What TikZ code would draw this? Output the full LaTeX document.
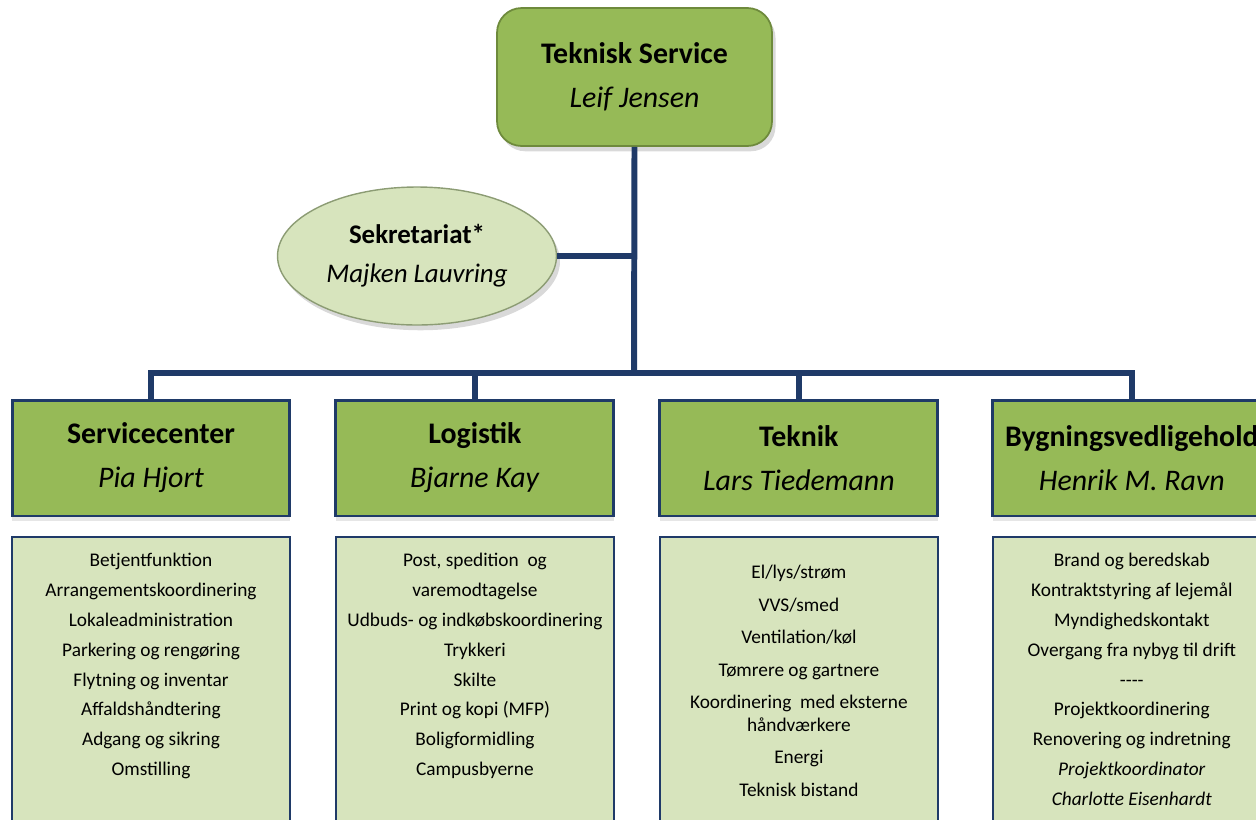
\documentclass[tikz,border=0pt]{standalone}
\usepackage{fontspec}
\setmainfont{Carlito}
\usepackage{xcolor}
\usepackage{tikz}
\usetikzlibrary{positioning}
\usetikzlibrary{shapes.geometric, shadows}
\definecolor{olive}{HTML}{96BA57}
\definecolor{pale}{HTML}{D7E4BD}
\definecolor{navy}{HTML}{1F3A68}
\definecolor{leaf}{HTML}{6E8A3C}
\definecolor{sage}{HTML}{8C9C74}
\tikzstyle{chief} = [rectangle, rounded corners=14pt, minimum width=5.5cm, minimum height=2.76cm, draw=leaf, line width=1pt, fill=olive, align=center, font=\fontsize{17}{25}\selectfont, drop shadow={shadow xshift=2pt, shadow yshift=-3pt, opacity=0.3}]
\tikzstyle{secretary} = [ellipse, minimum width=5.58cm, minimum height=2.76cm, inner sep=0pt, draw=sage, line width=0.8pt, fill=pale, align=center, font=\fontsize{15.3}{22}\selectfont, drop shadow={shadow xshift=2pt, shadow yshift=-3pt, opacity=0.3}]
\tikzstyle{manager} = [rectangle, minimum width=5.56cm, minimum height=2.32cm, draw=navy, line width=1.7pt, fill=olive, align=center, font=\fontsize{17}{25}\selectfont, drop shadow={shadow xshift=0pt, shadow yshift=-3pt, opacity=0.2}]
\tikzstyle{duties} = [rectangle, minimum width=5.56cm, minimum height=6.06cm, draw=navy, line width=1.4pt, fill=pale]
\tikzstyle{items} = [inner sep=0pt, align=center, font=\fontsize{11}{17}\selectfont]
\tikzstyle{line} = [navy, line width=3.4pt]

\begin{document}
\begin{tikzpicture}[x=0.02cm, y=-0.02cm, node distance=6.48cm]
    \useasboundingbox (0,0) rectangle (1256,819);
    \clip (0,0) rectangle (1256,819);
    \coordinate(bus) at (634,373);
    %
    \node(chief)[chief] at (634.5,77) {\textbf{Teknisk Service}\\\textit{Leif Jensen}};
    \node(secretary)[secretary] at (417,256) {\textbf{Sekretariat*}\\\textit{Majken Lauvring}};
    %
    \node(service)[manager] at (151,458) {\textbf{Servicecenter}\\\textit{Pia Hjort}};
    \node(logistik)[manager, right of=service] {\textbf{Logistik}\\\textit{Bjarne Kay}};
    \node(teknik)[manager, right of=logistik] {\textbf{Teknik}\\\textit{Lars Tiedemann}};
    \node(building)[manager, node distance=6.66cm, right of=teknik] {\textbf{Bygningsvedligehold}\\\textit{Henrik M. Ravn}};
    %
    \node(service-list)[duties, node distance=4.61cm, below of=service] {};
    \node(logistik-list)[duties, node distance=4.61cm, below of=logistik] {};
    \node(teknik-list)[duties, node distance=4.61cm, below of=teknik] {};
    \node(building-list)[duties, node distance=4.61cm, below of=building] {};
    %
    \node(service-items)[items, below=0.34cm of service-list.north] {Betjentfunktion\\Arrangementskoordinering\\Lokaleadministration\\Parkering og rengøring\\Flytning og inventar\\Affaldshåndtering\\Adgang og sikring\\Omstilling};
    \node(logistik-items)[items, below=0.34cm of logistik-list.north] {Post, spedition\ \ og\\varemodtagelse\\Udbuds- og indkøbskoordinering\\Trykkeri\\Skilte\\Print og kopi (MFP)\\Boligformidling\\Campusbyerne};
    \node(teknik-items)[items, font=\fontsize{11}{13}\selectfont, below=0.58cm of teknik-list.north] {El/lys/strøm\\[5.5pt]VVS/smed\\[5.5pt]Ventilation/køl\\[5.5pt]Tømrere og gartnere\\[5.5pt]Koordinering\ \ med eksterne\\håndværkere\\[5.5pt]Energi\\[5.5pt]Teknisk bistand};
    \node(building-items)[items, below=0.34cm of building-list.north] {Brand og beredskab\\Kontraktstyring af lejemål\\Myndighedskontakt\\Overgang fra nybyg til drift\\-{}-{}-{}-\\Projektkoordinering\\Renovering og indretning\\\textit{Projektkoordinator}\\\textit{Charlotte Eisenhardt}};
    %
    \draw[line](chief.south) -- (bus);
    \draw[line](secretary.east) -- (secretary.east -| bus);
    \draw[line](service.north) -- (service.north |- bus) -- (building.north |- bus) -- (building.north);
    \draw[line](logistik.north) -- (logistik.north |- bus);
    \draw[line](teknik.north) -- (teknik.north |- bus);
  \end{tikzpicture}
\end{document}
